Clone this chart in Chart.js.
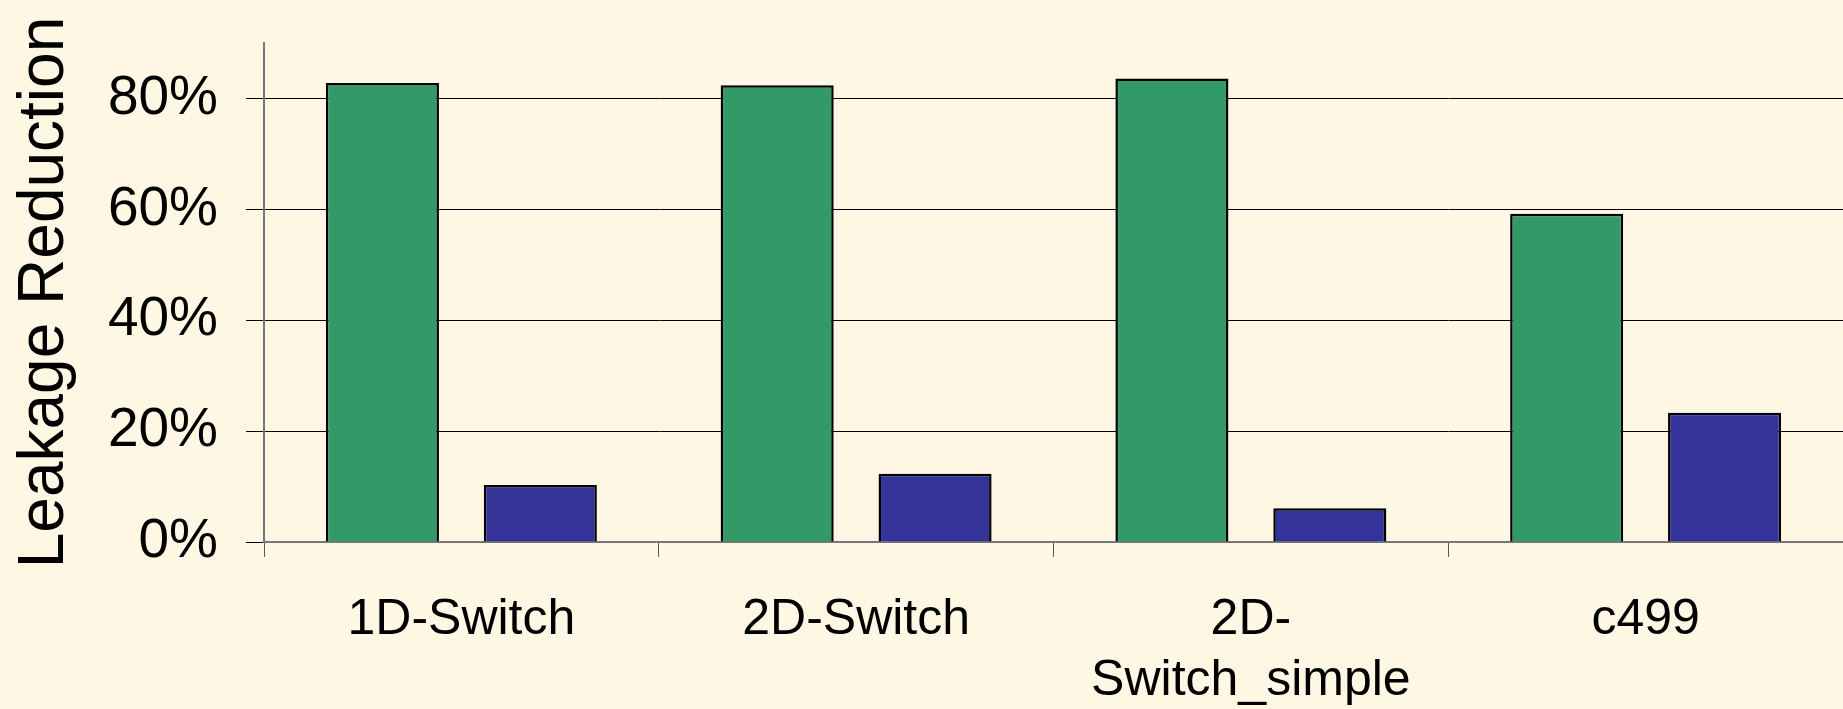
<!DOCTYPE html>
<html>
<head>
<meta charset="utf-8">
<title>Leakage Reduction</title>
<script src="https://cdn.jsdelivr.net/npm/chart.js@4"></script>
<style>
  html, body { margin: 0; padding: 0; background: #fdf7e3; }
  canvas { display: block; }
</style>
</head>
<body>
<canvas id="grafico" width="1843" height="709"></canvas>
<script>
// circuits on the x axis (multi-line labels are arrays)
const categories = ["1D-Switch", "2D-Switch", ["2D-", "Switch_simple"], "c499"];
// leakage reduction in percent
const seriesGreen = [82.8, 82.4, 83.6, 59.2];
const seriesBlue = [10.3, 12.3, 6.1, 23.3];
const yTicks = [0, 20, 40, 60, 80];

const fontFamily = "'Liberation Sans', Arial, sans-serif";

const ctx = document.getElementById("grafico").getContext("2d");

new Chart(ctx, {
  type: "bar",
  data: {
    labels: categories,
    datasets: [
      {
        label: "Series 1",
        data: seriesGreen,
        backgroundColor: "#339966",
        borderColor: "#000000",
        borderWidth: 2.5,
        categoryPercentage: 0.8,
        barPercentage: 0.716,
      },
      {
        label: "Series 2",
        data: seriesBlue,
        backgroundColor: "#333399",
        borderColor: "#000000",
        borderWidth: 2.5,
        categoryPercentage: 0.8,
        barPercentage: 0.716,
      },
    ],
  },
  options: {
    responsive: false,
    animation: false,
    layout: { padding: { top: 43, right: 0, left: 0, bottom: 0 } },
    plugins: {
      legend: { display: false },
      tooltip: { enabled: false },
    },
    scales: {
      x: {
        grid: {
          offset: true,
          drawOnChartArea: false,
          drawTicks: true,
          tickLength: 15,
          color: "#555555",
          lineWidth: 1,
        },
        border: { color: "#777777", width: 2 },
        ticks: {
          color: "#000000",
          padding: 33,
          maxRotation: 0,
          autoSkip: false,
          font: { family: fontFamily, size: 50, lineHeight: 1.22 },
        },
        afterFit: (scale) => {
          scale.height = 167;
          scale.paddingLeft = 0;
          scale.paddingRight = 0;
        },
      },
      y: {
        min: 0,
        max: 90,
        afterBuildTicks: (scale) => {
          scale.ticks = yTicks.map((v) => ({ value: v }));
        },
        grid: {
          color: "#000000",
          lineWidth: 1,
          drawTicks: true,
          tickLength: 18,
        },
        border: { color: "#777777", width: 2 },
        ticks: {
          color: "#000000",
          padding: 28,
          font: { family: fontFamily, size: 55 },
          callback: (v) => v + "%",
        },
        title: {
          display: true,
          text: "Leakage Reduction",
          color: "#000000",
          padding: { top: 7, bottom: 0 },
          font: { family: fontFamily, size: 64, lineHeight: 1.2 },
        },
        afterFit: (scale) => {
          // keep the plot top fixed by the layout padding only
          scale.width = 264;
          scale.paddingTop = 0;
          scale.paddingBottom = 0;
        },
      },
    },
  },
});
</script>
</body>
</html>
